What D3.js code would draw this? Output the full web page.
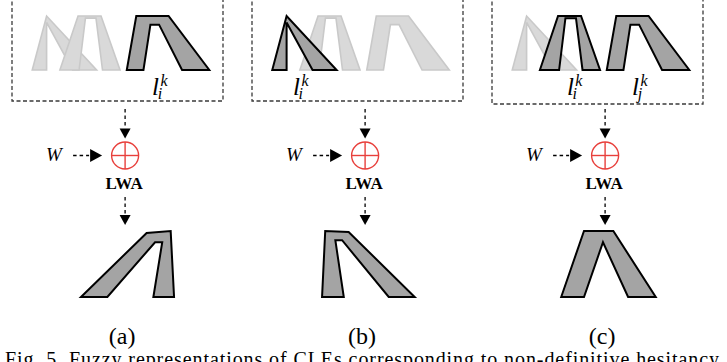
<!DOCTYPE html>
<html>
<head>
<meta charset="utf-8">
<script src="https://cdn.jsdelivr.net/npm/d3@7"></script>
<style>
  body { margin: 0; background: #fff; }
  svg { display: block; }
</style>
</head>
<body>
<div id="chart"></div>
<script>
// panels and captions
var panels = ["a", "b", "c"];
var panelLabels = ["(a)", "(b)", "(c)"];
var caption = "Fig. 5. Fuzzy representations of CLEs corresponding to non-definitive hesitancy";

// linguistic terms on a 0-100 universe: upper (outer) and lower (inner) corners
var termUpper = [[9.6, 16.4, 16.4, 40.1], [22.7, 31.3, 42.2, 51.2], [54.4, 58.9, 74.2, 93.5]];
var termLower = [[16.4, 16.4, 16.4, 28.7], [31.8, 34.8, 39.8, 42.9], [62.3, 65.6, 69.7, 80.6]];
var termLowerHeight = [0.88, 0.96, 0.84];
var termLabelAt = [19.4, 35.5, 66.4];

// per panel: 0 = not shown, 1 = faded, 2 = selected; subscript of the selected term
var panelTerms = [[1, 1, 2], [2, 1, 1], [1, 2, 2]];
var panelSubs = [[null, null, "i"], ["i", null, null], [null, "i", "j"]];

// LWA results
var resultUpper = [[32.7, 63.8, 75.2, 76.8], [33.2, 34.7, 45.8, 77.1], [32.8, 43.6, 57.5, 77.6]];
var resultUpperHeight = [[0.97, 1], [1, 0.985], [1, 1]];
var resultLower = [[45.2, 67.8, 71.2, 67.0], [43.5, 39.5, 42.7, 64.8], [43.6, 52.6, 52.6, 64.5]];
var resultLowerHeight = [0.83, 0.86, 0.83];

var opAt = 53.6;   // where the LWA operator sits on the universe
var weightAt = 19.9;

var W = 727, H = 362;
var serif = "'Liberation Serif', 'Times New Roman', serif";
var svg = d3.select("#chart").append("svg").attr("width", W).attr("height", H);

var px = d3.scalePoint().domain(panels).range([12, 492]);
var panelW = 211;
var yTop = d3.scaleLinear().domain([0, 1]).range([70, 16]);
var yBot = d3.scaleLinear().domain([0, 1]).range([297, 231]);

var line = d3.line();

function shape(x, y, up, upH, lo, loH) {
  var pts = [
    [x(up[0]), y(0)], [x(up[1]), y(upH[0])], [x(up[2]), y(upH[1])], [x(up[3]), y(0)],
    [x(lo[3]), y(0)], [x(lo[2]), y(loH)], [x(lo[1]), y(loH)], [x(lo[0]), y(0)]
  ];
  return line(pts) + "Z";
}

function arrowHead(g, tipX, tipY, dir) {
  // dir: "down" or "right"
  var p = dir == "down"
    ? [[tipX - 5.5, tipY - 10], [tipX + 5.5, tipY - 10], [tipX, tipY]]
    : [[tipX - 12, tipY - 6.5], [tipX - 12, tipY + 6.5], [tipX, tipY]];
  g.append("path").attr("d", line(p) + "Z").attr("fill", "#000");
}

panels.forEach(function(p, i) {
  var left = px(p);
  var x = d3.scaleLinear().domain([0, 100]).range([left, left + panelW]);
  var g = svg.append("g").attr("class", "panel-" + p);
  var bottom = i == 2 ? 104 : 101;

  // dashed frame (top edge is cut off)
  g.append("path")
    .attr("d", line([[left, -5], [left, bottom], [left + panelW, bottom], [left + panelW, -5]]))
    .attr("fill", "none").attr("stroke", "#3a3a3a").attr("stroke-width", 1.3)
    .attr("stroke-dasharray", "4,2.5");

  // faded terms first, then selected ones on top
  [1, 2].forEach(function(state) {
    panelTerms[i].forEach(function(s, t) {
      if (s != state) return;
      g.append("path")
        .attr("d", shape(x, yTop, termUpper[t], [1, 1], termLower[t], termLowerHeight[t]))
        .attr("fill", state == 2 ? "#a4a4a4" : "#d9d9d9")
        .attr("stroke", state == 2 ? "#000" : "#c9c9c9")
        .attr("stroke-width", state == 2 ? 2 : 1.6)
        .attr("stroke-linejoin", "miter");
    });
  });

  // l_i^k labels, one text with shifted tspans
  panelSubs[i].forEach(function(sub, t) {
    if (!sub) return;
    var lab = g.append("text").attr("x", x(termLabelAt[t])).attr("y", 95)
      .attr("font-family", serif).attr("font-style", "italic").attr("font-size", 25);
    lab.append("tspan").text("l");
    lab.append("tspan").attr("dx", 1.5).attr("dy", -9).attr("font-size", 16).text("k");
    lab.append("tspan").attr("dx", -10).attr("dy", 13).attr("font-size", 16).text(sub);
  });

  var cx = x(opAt), cy = 155.5, r = 13.5;

  // arrow from frame into operator
  g.append("line").attr("x1", cx).attr("x2", cx).attr("y1", 109).attr("y2", 128)
    .attr("stroke", "#000").attr("stroke-width", 1.3).attr("stroke-dasharray", "3.5,3");
  arrowHead(g, cx, 138.5, "down");

  // weight W
  g.append("text").attr("x", x(weightAt)).attr("y", 161)
    .attr("text-anchor", "middle")
    .attr("font-family", serif)
    .attr("font-style", "italic").attr("font-size", 19).text("W");
  g.append("line").attr("x1", cx - 52).attr("x2", cx - 36).attr("y1", cy).attr("y2", cy)
    .attr("stroke", "#000").attr("stroke-width", 1.3).attr("stroke-dasharray", "3.5,3");
  arrowHead(g, cx - 23, cy, "right");

  // operator circle-plus
  g.append("circle").attr("cx", cx).attr("cy", cy).attr("r", r)
    .attr("fill", "none").attr("stroke", "#e8403c").attr("stroke-width", 1.4);
  g.append("line").attr("x1", cx - r).attr("x2", cx + r).attr("y1", cy).attr("y2", cy)
    .attr("stroke", "#e8403c").attr("stroke-width", 1.4);
  g.append("line").attr("x1", cx).attr("x2", cx).attr("y1", cy - r).attr("y2", cy + r)
    .attr("stroke", "#e8403c").attr("stroke-width", 1.4);

  g.append("text").attr("x", cx - 1).attr("y", 188.5).attr("text-anchor", "middle")
    .attr("font-family", serif)
    .attr("font-weight", "bold").attr("font-size", 17).text("LWA");

  // arrow down to the result
  g.append("line").attr("x1", cx).attr("x2", cx).attr("y1", 197).attr("y2", 214)
    .attr("stroke", "#000").attr("stroke-width", 1.3).attr("stroke-dasharray", "3.5,3");
  arrowHead(g, cx, 225, "down");

  // aggregated result
  g.append("path")
    .attr("d", shape(x, yBot, resultUpper[i], resultUpperHeight[i], resultLower[i], resultLowerHeight[i]))
    .attr("fill", "#a4a4a4").attr("stroke", "#000").attr("stroke-width", 2)
    .attr("stroke-linejoin", "miter");

  g.append("text").attr("x", cx - 3).attr("y", 344).attr("text-anchor", "middle")
    .attr("font-family", serif)
    .attr("font-size", 24).text(panelLabels[i]);
});

svg.append("text").attr("x", 5).attr("y", 366)
  .attr("font-family", serif)
  .attr("font-size", 20).attr("textLength", 714).attr("lengthAdjust", "spacing")
  .text(caption);
</script>
</body>
</html>
